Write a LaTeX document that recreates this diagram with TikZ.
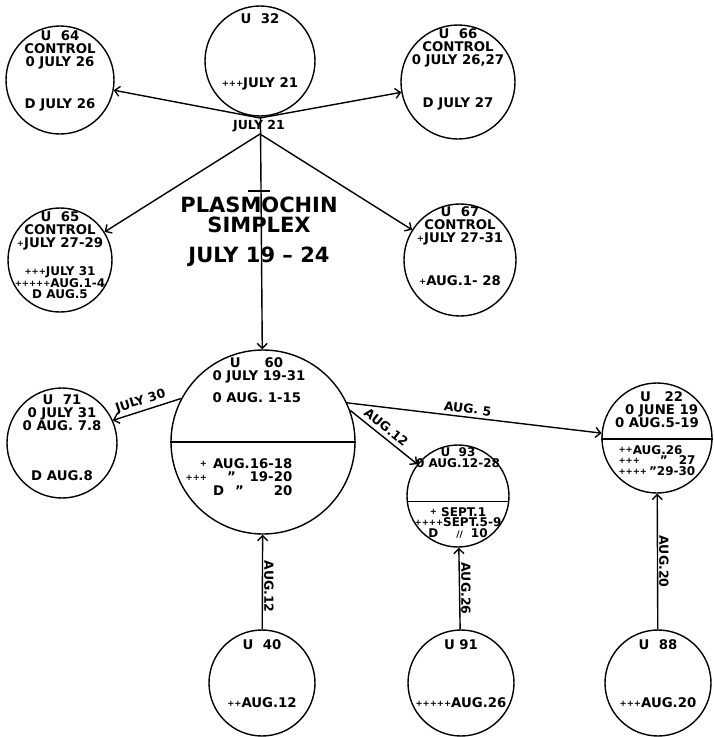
\documentclass[tikz,border=0pt]{standalone}
\usepackage{fontspec}
\setmainfont{DejaVu Sans}
\usetikzlibrary{positioning, arrows.meta}

% the little crosses in front of a date
\newcommand\crs[1]{\raisebox{1.2pt}{\fontsize{8.5}{8.5}\selectfont #1}}

\tikzset{
  patient/.style={circle, draw, line width=1.4pt, minimum size=#1, inner sep=0pt},
  patient/.default=108pt,
  txt/.style={font=\bfseries\fontsize{13.3}{13}\selectfont, inner sep=0pt, align=center},
  tight/.style={txt, font=\bfseries\fontsize{12}{10.8}\selectfont},
  lbl/.style={font=\bfseries\fontsize{12.5}{12.5}\selectfont, inner sep=1pt},
  title/.style={font=\bfseries\fontsize{21}{20}\selectfont, inner sep=0pt, align=center},
  edge/.style={line width=1.4pt, ->},
  >={Straight Barb[length=5pt,width=10pt]}
}

\begin{document}
\begin{tikzpicture}[x=1pt, y=-1pt]
\fill[white] (0,0) rectangle (714,737);

\node[patient=110pt] (u32) at (260,61) {};
\node[patient=108pt] (u64) at (60,80) {};
\node[patient=114pt] (u66) at (458,82) {};
\node[patient=104pt] (u65) at (60,260) {};
\node[patient=112pt] (u67) at (460,260) {};
\node[patient=184pt] (u60) at (263,442) {};
\node[patient=110pt] (u71) at (62,443) {};
\node[patient=102pt] (u93) at (458,496) {};
\node[patient=110pt] (u22) at (657,438) {};
\node[patient=106pt] (u40) at (262,683) {};
\node[patient=106pt] (u91) at (461,683) {};
\node[patient=106pt] (u88) at (658,683) {};

\draw[line width=1.3pt] (u60.west) -- (u60.east);
\draw[line width=1.3pt] (u93.186.75) -- (u93.-6.75);
\draw[line width=1.3pt] (u22.181) -- (u22.-1);

\node[txt, below=8pt of u32.north] (u32a) {U\ \ 32};
\node[txt, above=29pt of u32.south, anchor=base] (u32b) {\crs{+++}JULY 21};

\node[txt, below=5pt of u64.north] (u64a) {U\ \ 64\\CONTROL\\0 JULY 26};
\node[txt, above=26pt of u64.south, anchor=base] (u64b) {D JULY 26};

\node[txt, below=4pt of u66.north] (u66a) {U\ \ 66\\CONTROL\\0 JULY 26,27};
\node[txt, above=32pt of u66.south, anchor=base] (u66b) {D JULY 27};

\node[txt, below=4pt of u65.north] (u65a) {U\ \ 65\\CONTROL\\\crs{+}JULY 27-29};
\node[tight, above=14pt of u65.south] (u65b) {\crs{+++}JULY 31\\\crs{+++++}AUG.1-4\\D AUG.5};

\node[txt, below=3pt of u67.north] (u67a) {U\ \ 67\\CONTROL\\\crs{+}JULY 27-31};
\node[txt, above=31pt of u67.south, anchor=base] (u67b) {\crs{+}AUG.1- 28};

\node[txt, below=7pt of u71.north] (u71a) {U\ \ 71\\0 JULY 31\\0 AUG. 7.8};
\node[txt, above=18pt of u71.south, anchor=base] (u71b) {D AUG.8};

\node[txt, below=8pt of u60.north, align=left, xshift=-4pt] (u60a)
  {\hspace{1.3em}U\hspace{1.8em}60\\0 JULY 19-31\\[9pt]0 AUG. 1-15};
\node[txt, below=16pt of u60.center, xshift=-24pt] (u60b)
  {\begin{tabular}{@{}r@{\hspace{6pt}}l@{}r@{}}
   \crs{+} & AUG. & 16-18\\
   \crs{+++} & \hspace{14pt}” & 19-20\\
   & D\hspace{11pt}” & 20
   \end{tabular}};

\node[tight, below=3pt of u93.north] (u93a) {U\ \ 93\\0 AUG.12-28};
\node[tight, below=11pt of u93.center] (u93b)
  {\crs{+} SEPT.1\\\crs{++++}SEPT.5-9\\D\hspace{18pt}{\fontsize{9}{9}\selectfont //}\hspace{8pt}10};

\node[txt, below=9pt of u22.north] (u22a) {\ \ U\ \ \ 22\\\ \ 0 JUNE 19\\0 AUG.5-19};
\node[tight, below=7pt of u22.center, align=left] (u22b)
  {\crs{++}AUG.26\\\crs{+++}\hspace{20pt}”\hspace{11pt}27\\\crs{++++}\,”29-30};

\node[txt, below=10pt of u40.north] (u40a) {U\ \ 40};
\node[txt, above=29pt of u40.south, anchor=base] (u40b) {\crs{++}AUG.12};
\node[txt, below=10pt of u91.north] (u91a) {U\ 91};
\node[txt, above=29pt of u91.south, anchor=base] (u91b) {\crs{+++++}AUG.26};
\node[txt, below=10pt of u88.north] (u88a) {U\ \ 88};
\node[txt, above=29pt of u88.south, anchor=base] (u88b) {\crs{+++}AUG.20};

\node[title] (drug) at (259,232) {PLASMOCHIN\\SIMPLEX\\[10pt]JULY 19\ –\ 24};
\draw[line width=1.4pt] ([xshift=-11pt,yshift=6pt]drug.north) -- ([xshift=11pt,yshift=6pt]drug.north);

\coordinate (j1) at (260,118);
\coordinate (j2) at (260,134);
\draw[edge] (u32) -- (u60);
\draw[edge] (j1) -- (u64);
\draw[edge] (j1) -- (u66);
\draw[edge] (j2) -- (u65);
\draw[edge] (j2) -- (u67);
\node[lbl] (d21) at (259,126) {JULY 21};

\draw[edge] (u60.152) -- node[lbl, sloped, above=2pt, pos=0.55] {JULY 30} (u71.24);
\draw[edge] (u60.25) -- node[lbl, sloped, above=2pt, pos=0.47] {AUG. 5} (u22.175);
\draw[edge] (u60.20) -- node[lbl, sloped, above=3pt, pos=0.45] {AUG.12} (u93.142);
\draw[edge] (u40) -- node[lbl, rotate=-90, anchor=south, pos=0.45] {AUG.12} (u60);
\draw[edge] (u91) -- node[lbl, rotate=-90, anchor=south] {AUG.26} (u93);
\draw[edge] (u88) -- node[lbl, rotate=-90, anchor=south] {AUG.20} (u22);
\end{tikzpicture}
\end{document}
